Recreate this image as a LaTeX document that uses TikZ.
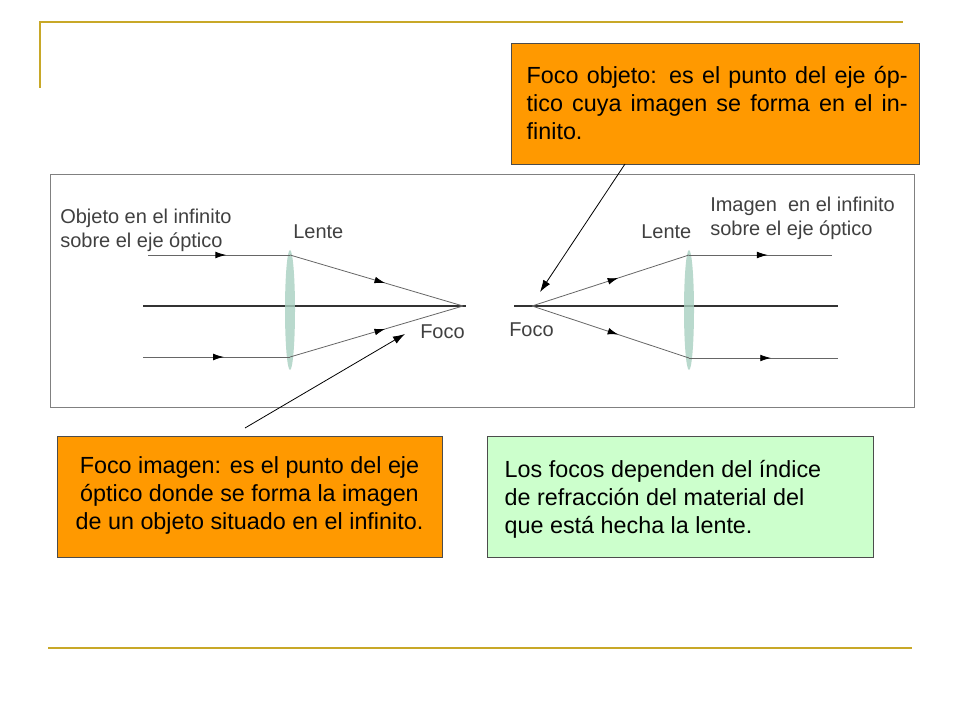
\documentclass[tikz,border=0pt]{standalone}
\usepackage{fontspec}
\setmainfont{Liberation Sans}
\usetikzlibrary{arrows.meta,decorations.markings}
\definecolor{gold}{HTML}{C8A828}
\definecolor{orng}{HTML}{FF9900}
\definecolor{lgreen}{HTML}{CCFFCC}
\definecolor{lensc}{HTML}{A8D0C0}
\begin{document}
\begin{tikzpicture}[x=0.75pt,y=-0.75pt,
  ray/.style={draw=gray!80!black,line width=0.6pt,postaction={decorate},
    decoration={markings,mark=at position 0.55 with {\arrow[black]{Latex[length=8pt,width=5pt]}}}},
  lbl/.style={font=\fontsize{15}{17}\selectfont,text=black!75,inner sep=0,anchor=west},
  info/.style={draw=black!70,line width=0.5pt,inner sep=0,minimum width=0},
  txt/.style={font=\fontsize{17.5}{21}\selectfont},
  pointer/.style={draw=black,line width=0.6pt,-{Latex[length=9pt,width=6pt]}},
  lens/.style={fill=lensc,draw=none,opacity=0.8}]
\useasboundingbox (0,0) rectangle (960,720);
% gold decoration
\draw[gold,line width=1.5pt] (40,88) -- (40,22) -- (903,22);
\draw[gold,line width=1.5pt] (48,648) -- (912,648);
% frame
\node[draw=gray,line width=0.8pt,minimum width=864*0.75pt,minimum height=233*0.75pt,anchor=north west] (frame) at (50,174) {};
% left part
\coordinate (L1a) at (148,255); \coordinate (L1b) at (290,255);
\coordinate (L2a) at (143,357); \coordinate (L2b) at (290,357);
\coordinate (F1) at (463,306);
\draw[line width=1pt,black!80] (143,306) -- (466,306);
\fill[lens] (290,310) ellipse (5 and 60);
\path[ray] (L1a) -- (L1b); \path[ray] (L1b) -- (F1);
\path[ray] (L2a) -- (L2b); \path[ray] (L2b) -- (F1);
\node[lbl] (o1) at (60,218) {Objeto en el infinito};
\node[lbl] (o2) at (60,242) {sobre el eje óptico};
\node[lbl] (len1) at (293,232) {Lente};
\node[lbl] (foc1) at (420,332) {Foco};
% right part
\coordinate (F2) at (532,306);
\coordinate (R1a) at (689,255); \coordinate (R1b) at (832,255);
\coordinate (R2a) at (689,358); \coordinate (R2b) at (838,358);
\draw[line width=1pt,black!80] (514,306) -- (838,306);
\fill[lens] (689,310) ellipse (5 and 60);
\path[ray] (F2) -- (R1a); \path[ray] (R1a) -- (R1b);
\path[ray] (F2) -- (R2a); \path[ray] (R2a) -- (R2b);
\node[lbl] (len2) at (641,232) {Lente};
\node[lbl] (foc2) at (509,330) {Foco};
\node[lbl] (i1) at (710,206) {Imagen\ \ en el infinito};
\node[lbl] (i2) at (710,230) {sobre el eje óptico};
% info boxes
\node[info,fill=orng,minimum width=408*0.75pt,minimum height=121*0.75pt,anchor=north west] (fo) at (511,43) {};
\node[txt,text width=381*0.75pt,align=justify,anchor=north west] (fot) at (522,62) {\hyphenpenalty=10000\exhyphenpenalty=10000 Foco objeto: es el punto del eje óptico cuya imagen se forma en el infinito.};
\node[info,fill=orng,minimum width=385*0.75pt,minimum height=121*0.75pt,anchor=north west] (fi) at (57,436) {};
\node[txt,align=center] (fit) at (249.5,495) {Foco imagen: es el punto del eje\\óptico donde se forma la imagen\\de un objeto situado en el infinito.};
\node[info,fill=lgreen,minimum width=386*0.75pt,minimum height=121*0.75pt,anchor=north west] (lf) at (487,436) {};
\node[txt,align=left,anchor=west] (lft) at (500,499) {Los focos dependen del índice\\de refracción del material del\\que está hecha la lente.};
% pointers
\draw[pointer] (625,164) -- (540,292);
\draw[pointer] (245,428) -- (405,334);
\end{tikzpicture}
\end{document}
